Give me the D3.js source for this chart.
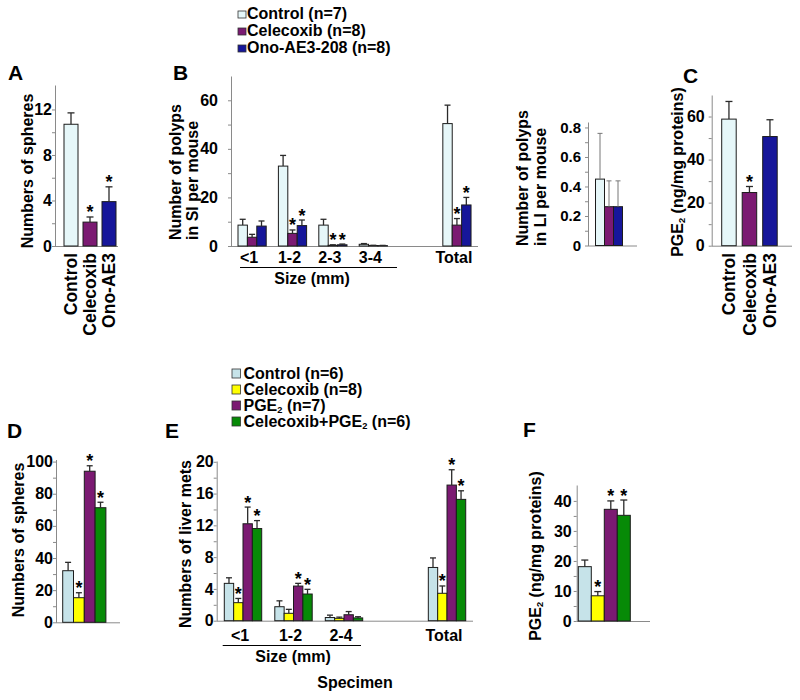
<!DOCTYPE html>
<html><head><meta charset="utf-8">
<script src="https://cdn.jsdelivr.net/npm/d3@7"></script>
<style>
body{margin:0;background:#fff;}
svg{display:block;}
</style></head><body>
<svg id="chart" width="800" height="700"></svg>
<script>
// ---------- DATA ----------
// Panel A: spheres
const aCategories = ["Control", "Celecoxib", "Ono-AE3"];
const aMeans = [10.7, 2.1, 3.9];
const aSE = [1.0, 0.45, 1.3];
const aSig = [false, true, true];

// Panel B: polyps in SI per mouse by size
const bLegend = ["Control (n=7)", "Celecoxib (n=8)", "Ono-AE3-208 (n=8)"];
const bSizes = ["<1", "1-2", "2-3", "3-4", "Total"];
const bControl = [8.6, 32.9, 8.6, 0.7, 50.4];
const bControlSE = [2.4, 4.4, 2.4, 0.3, 7.6];
const bCelecoxib = [3.6, 5.2, 0.3, 0.2, 8.6];
const bCelecoxibSE = [1.2, 1.4, 0.2, 0.1, 2.7];
const bOno = [8.2, 8.4, 0.5, 0.15, 16.9];
const bOnoSE = [2.1, 2.3, 0.3, 0.1, 3.1];
const bCelecoxibSig = [false, true, true, false, true];
const bOnoSig = [false, true, true, false, true];

// Panel B (right): polyps in LI per mouse
const liMeans = [0.45, 0.263, 0.263];
const liSE = [0.31, 0.175, 0.175];

// Panel C: PGE2
const cCategories = ["Control", "Celecoxib", "Ono-AE3"];
const cMeans = [58.8, 24.7, 50.7];
const cSE = [8.2, 2.8, 7.8];
const cSig = [false, true, false];

// Panel D: spheres
const eLegend = ["Control (n=6)", "Celecoxib (n=8)", "PGE2 (n=7)", "Celecoxib+PGE2 (n=6)"];
const dMeans = [32.1, 15.3, 94.0, 71.3];
const dSE = [5.2, 3.1, 3.4, 3.4];
const dSig = [false, true, true, true];

// Panel E: liver mets by size
const eSizes = ["<1", "1-2", "2-4", "Total"];
const eControl = [4.7, 1.76, 0.4, 6.7];
const eControlSE = [0.7, 0.74, 0.3, 1.2];
const eCelecoxib = [2.27, 0.93, 0.3, 3.45];
const eCelecoxibSE = [0.53, 0.5, 0.15, 0.92];
const ePGE2 = [12.2, 4.36, 0.75, 17.07];
const ePGE2SE = [2.1, 0.34, 0.4, 1.93];
const eCombo = [11.6, 3.36, 0.35, 15.27];
const eComboSE = [1.0, 0.59, 0.15, 1.08];
const eCelecoxibSig = [true, false, false, true];
const ePGE2Sig = [true, true, false, true];
const eComboSig = [true, true, false, true];

// Panel F: PGE2
const fMeans = [18.1, 8.4, 37.2, 35.2];
const fSE = [2.2, 1.4, 2.8, 5.1];
const fSig = [false, true, true, true];

// ---------- STYLE ----------
const FONT = "'Liberation Sans', Arial, Helvetica, sans-serif";
const AXIS = "#8a8a8a";
const topColors = ["#e6f7f9", "#7b1a72", "#16169a"];
const botColors = ["#c6e3e9", "#ffff00", "#7b1a72", "#078a07"];

const svg = d3.select("#chart").attr("font-family", FONT).attr("font-weight", "bold");

function rich(sel, str, size) {
  const parts = str.split("PGE2");
  parts.forEach((p, i) => {
    if (i > 0) {
      sel.append("tspan").text("PGE");
      sel.append("tspan").attr("font-size", size * 0.58).attr("dy", size * 0.12).text("2");
      sel.append("tspan").attr("dy", -size * 0.12).text(p === "" ? "\u200b" : p);
    } else if (p !== "") {
      sel.append("tspan").text(p);
    }
  });
}

function drawPanel(p) {
  const g = svg.append("g");
  const y = d3.scaleLinear().domain([0, p.yMax]).range([p.baseline, p.top]);
  const xg = d3.scaleLinear().domain([0, 1]).range([p.firstLeft, p.firstLeft + (p.slotStep || 0)]);
  g.append("line").attr("x1", p.axisX).attr("x2", p.axisEnd)
    .attr("y1", p.baseline + 0.5).attr("y2", p.baseline + 0.5).attr("stroke", AXIS);
  if (p.minor) {
    const mg = g.append("g").attr("transform", `translate(${p.axisX},0)`)
      .call(d3.axisLeft(y).tickValues(p.minor).tickSize(3).tickFormat(""));
    mg.select(".domain").remove();
    mg.selectAll(".tick line").attr("stroke", AXIS);
  }
  const ax = g.append("g").attr("transform", `translate(${p.axisX},0)`)
    .call(d3.axisLeft(y).tickValues(p.ticks).tickSize(3).tickSizeOuter(0)
      .tickPadding(Math.max(0, p.tickGap - 3)).tickFormat(p.fmt || d3.format("d")));
  ax.select(".domain").attr("stroke", AXIS);
  ax.selectAll(".tick line").attr("stroke", AXIS);
  ax.selectAll(".tick text").attr("fill", "#000").attr("font-size", p.tickFont)
    .attr("font-weight", "bold").attr("font-family", FONT);
  const centers = [];
  p.groups.forEach((bars, gi) => {
    const left0 = xg(p.slots ? p.slots[gi] : 0);
    centers.push(left0 + (bars.length * p.barStep - (p.barStep - p.barW)) / 2);
    bars.forEach((b, bi) => {
      const x0 = left0 + bi * p.barStep;
      const cx = x0 + p.barW / 2;
      g.append("rect").attr("x", x0).attr("y", y(b.v)).attr("width", p.barW)
        .attr("height", y(0) - y(b.v)).attr("fill", b.color)
        .attr("stroke", "#1c1c1c").attr("stroke-width", 1);
      const yt = y(b.v + b.e);
      g.append("line").attr("x1", cx).attr("x2", cx).attr("y1", y(b.v)).attr("y2", yt)
        .attr("stroke", p.errColor || "#2a2a2a").attr("stroke-width", p.errW || 1.3);
      g.append("line").attr("x1", cx - p.capW / 2).attr("x2", cx + p.capW / 2).attr("y1", yt).attr("y2", yt)
        .attr("stroke", p.errColor || "#2a2a2a").attr("stroke-width", p.errW || 1.3);
      if (b.sig) {
        g.append("text").attr("x", cx).attr("y", yt + 1.5).attr("text-anchor", "middle")
          .attr("font-size", 18).text("*");
      }
    });
  });
  return { y, centers };
}

function yLabel(x, y, str, anchor = "middle", size = 16) {
  const t = svg.append("text").attr("transform", `translate(${x},${y}) rotate(-90)`)
    .attr("dy", "0.35em").attr("text-anchor", anchor).attr("font-size", size);
  rich(t, str, size);
}
function letter(x, y, s) {
  svg.append("text").attr("x", x).attr("y", y).attr("font-size", 21).text(s);
}
function rotLabels(centers, cats, yTop) {
  cats.forEach((c, i) => {
    svg.append("text").attr("transform", `translate(${centers[i]},${yTop}) rotate(-90)`)
      .attr("dy", "0.35em").attr("text-anchor", "end").attr("font-size", 17.5).text(c);
  });
}

// ---------- PANEL A ----------
letter(8, 80, "A");
drawPanel({
  axisX: 55, baseline: 246, top: 85, yMax: 14.15, ticks: [0, 4, 8, 12], minor: [2, 6, 10],
  tickGap: 2, tickFont: 16, axisEnd: 118, firstLeft: 64, barW: 14, barStep: 19, capW: 7,
  groups: [aMeans.map((v, i) => ({ v, e: aSE[i], sig: aSig[i], color: topColors[i] }))]
});
yLabel(27, 171, "Numbers of spheres");
rotLabels([0, 1, 2].map(i => 64 + i * 19 + 7), aCategories, 253);

// ---------- LEGEND B ----------
bLegend.forEach((s, i) => {
  const yb = 19 + i * 17;
  svg.append("rect").attr("x", 238).attr("y", yb - 8).attr("width", 8).attr("height", 7)
    .attr("fill", topColors[i]).attr("stroke", "#333").attr("stroke-width", 0.8);
  svg.append("text").attr("x", 247).attr("y", yb).attr("font-size", 16).text(s);
});

// ---------- PANEL B (SI) ----------
letter(173, 80, "B");
const pB = drawPanel({
  axisX: 231, baseline: 246, top: 76, yMax: 70, ticks: [0, 20, 40, 60], minor: [10, 30, 50],
  tickGap: 13, tickFont: 16, axisEnd: 478, firstLeft: 238, slotStep: 40.4, slots: [0, 1, 2, 3, 5.07],
  barW: 9.4, barStep: 9.4, capW: 6,
  groups: bSizes.map((s, gi) => [
    { v: bControl[gi], e: bControlSE[gi], sig: false, color: topColors[0] },
    { v: bCelecoxib[gi], e: bCelecoxibSE[gi], sig: bCelecoxibSig[gi], color: topColors[1] },
    { v: bOno[gi], e: bOnoSE[gi], sig: bOnoSig[gi], color: topColors[2] }
  ])
});
bSizes.forEach((s, i) => {
  svg.append("text").attr("x", pB.centers[i] - 3).attr("y", 263).attr("text-anchor", "middle")
    .attr("font-size", 16).text(s);
});
svg.append("line").attr("x1", 240).attr("x2", 397).attr("y1", 267.5).attr("y2", 267.5).attr("stroke", "#000");
svg.append("text").attr("x", 312).attr("y", 284).attr("text-anchor", "middle").attr("font-size", 16).text("Size (mm)");
yLabel(175, 240, "Number of polyps", "start");
yLabel(192, 240, "in SI per mouse", "start");

// ---------- PANEL B (LI) ----------
drawPanel({
  axisX: 588, baseline: 245.5, top: 122, yMax: 0.837, ticks: [0, 0.2, 0.4, 0.6, 0.8], minor: [0.1, 0.3, 0.5, 0.7],
  fmt: d => d === 0 ? "0" : d3.format(".1f")(d),
  tickGap: 7, tickFont: 15, axisEnd: 637, firstLeft: 595.5, barW: 9, barStep: 9, capW: 5,
  errColor: "#777", errW: 1,
  groups: [liMeans.map((v, i) => ({ v, e: liSE[i], sig: false, color: topColors[i] }))]
});
yLabel(522, 246, "Number of polyps", "start");
yLabel(540, 246, "in LI per mouse", "start");

// ---------- PANEL C ----------
letter(683, 83, "C");
drawPanel({
  axisX: 711.7, baseline: 245.7, top: 95, yMax: 70, ticks: [0, 20, 40, 60], minor: [10, 30, 50],
  tickGap: 7, tickFont: 16, axisEnd: 792, firstLeft: 721.7, barW: 14.5, barStep: 20.5, capW: 7,
  groups: [cMeans.map((v, i) => ({ v, e: cSE[i], sig: cSig[i], color: topColors[i] }))]
});
yLabel(677, 172, "PGE2 (ng/mg proteins)");
rotLabels([0, 1, 2].map(i => 721.7 + i * 20.5 + 7.25), cCategories, 253);

// ---------- LEGEND E ----------
eLegend.forEach((s, i) => {
  const yb = 379 + i * 16;
  svg.append("rect").attr("x", 232).attr("y", yb - 10).attr("width", 8.5).attr("height", 9)
    .attr("fill", botColors[i]).attr("stroke", "#333").attr("stroke-width", 0.8);
  const t = svg.append("text").attr("x", 243.5).attr("y", yb).attr("font-size", 16);
  rich(t, s, 16);
});

// ---------- PANEL D ----------
letter(7, 438, "D");
drawPanel({
  axisX: 56, baseline: 622.3, top: 459.5, yMax: 101.3, ticks: [0, 20, 40, 60, 80, 100], minor: [10, 30, 50, 70, 90],
  tickGap: 3, tickFont: 16, axisEnd: 120, firstLeft: 62.7, barW: 10.8, barStep: 10.8, capW: 6,
  groups: [dMeans.map((v, i) => ({ v, e: dSE[i], sig: dSig[i], color: botColors[i] }))]
});
yLabel(18, 540, "Numbers of spheres");

// ---------- PANEL E ----------
letter(165, 438, "E");
const pE = drawPanel({
  axisX: 216.7, baseline: 620.7, top: 461, yMax: 20.1, ticks: [0, 4, 8, 12, 16, 20], minor: [2, 6, 10, 14, 18],
  tickGap: 3, tickFont: 16, axisEnd: 473, firstLeft: 224.3, slotStep: 50.5, slots: [0, 1, 2, 4.04],
  barW: 9.35, barStep: 9.35, capW: 6,
  groups: eSizes.map((s, gi) => [
    { v: eControl[gi], e: eControlSE[gi], sig: false, color: botColors[0] },
    { v: eCelecoxib[gi], e: eCelecoxibSE[gi], sig: eCelecoxibSig[gi], color: botColors[1] },
    { v: ePGE2[gi], e: ePGE2SE[gi], sig: ePGE2Sig[gi], color: botColors[2] },
    { v: eCombo[gi], e: eComboSE[gi], sig: eComboSig[gi], color: botColors[3] }
  ])
});
eSizes.forEach((s, i) => {
  svg.append("text").attr("x", pE.centers[i] - 3).attr("y", 640.5).attr("text-anchor", "middle")
    .attr("font-size", 16).text(s);
});
svg.append("line").attr("x1", 222.7).attr("x2", 361).attr("y1", 645.5).attr("y2", 645.5).attr("stroke", "#000");
svg.append("text").attr("x", 293).attr("y", 662).attr("text-anchor", "middle").attr("font-size", 16).text("Size (mm)");
svg.append("text").attr("x", 355).attr("y", 688).attr("text-anchor", "middle").attr("font-size", 16).text("Specimen");
yLabel(185, 544, "Numbers of liver mets");

// ---------- PANEL F ----------
letter(523, 437, "F");
drawPanel({
  axisX: 576.7, baseline: 621, top: 485, yMax: 45.3, ticks: [0, 10, 20, 30, 40], minor: [5, 15, 25, 35],
  tickGap: 5, tickFont: 16, axisEnd: 650, firstLeft: 578.3, barW: 13, barStep: 13, capW: 7,
  groups: [fMeans.map((v, i) => ({ v, e: fSE[i], sig: fSig[i], color: botColors[i] }))]
});
yLabel(535, 556, "PGE2 (ng/mg proteins)");
</script>
</body></html>
